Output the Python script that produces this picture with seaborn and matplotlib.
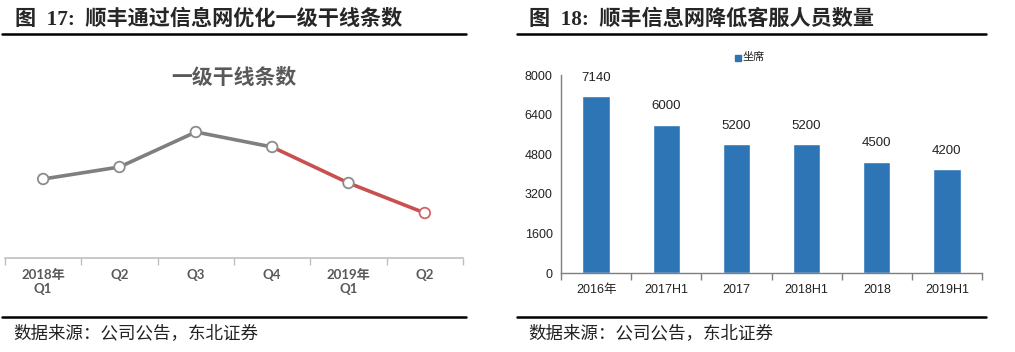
import pandas as pd
import numpy as np
import seaborn as sns
import matplotlib.pyplot as plt
from matplotlib.lines import Line2D

# left chart: trunk line count (no scale shown, values read as relative heights)
quarters = ['2018年\nQ1', 'Q2', 'Q3', 'Q4', '2019年\nQ1', 'Q2']
trunk_lines = [79, 91, 126, 111, 75, 45]

# right chart: customer service seats
periods = ['2016年', '2017H1', '2017', '2018H1', '2018', '2019H1']
seats = [7140, 6000, 5200, 5200, 4500, 4200]

sns.set_theme(style='white')
plt.rcParams['font.family'] = ['Liberation Sans', 'Noto Sans CJK SC', 'DejaVu Sans']
plt.rcParams['axes.unicode_minus'] = False

W, H = 1015, 352
fig = plt.figure(figsize=(W / 100, H / 100), dpi=100)


def fx(px):
    return px / W


def fy(py):
    return 1 - py / H


title_font = ['Liberation Serif', 'Noto Sans CJK SC']
cjk = ['Noto Sans CJK SC', 'DejaVu Sans']

# headers and rules
fig.text(fx(15), fy(20), '图  17:  顺丰通过信息网优化一级干线条数', fontsize=15.2, fontweight='bold',
         family=title_font, va='center', ha='left')
fig.text(fx(529), fy(20), '图  18:  顺丰信息网降低客服人员数量', fontsize=15.2, fontweight='bold',
         family=title_font, va='center', ha='left')
for x0, x1 in [(2, 466), (517, 986)]:
    fig.add_artist(Line2D([fx(x0), fx(x1)], [fy(34), fy(34)], color='black', lw=1.8))
for x0, x1 in [(2, 466), (517, 986)]:
    fig.add_artist(Line2D([fx(x0), fx(x1)], [fy(317), fy(317)], color='black', lw=1.8))
fig.text(fx(13), fy(334), '数据来源：公司公告，东北证券', fontsize=12.6, family=cjk, va='center', color='#222222')
fig.text(fx(528), fy(334), '数据来源：公司公告，东北证券', fontsize=12.6, family=cjk, va='center', color='#222222')

# ---- left line chart ----
ax1 = fig.add_axes([fx(5), fy(258), fx(458), (258 - 95) / H])
df1 = pd.DataFrame({'x': range(len(quarters)), 'y': trunk_lines})
gray_part = df1.iloc[:4]
red_part = df1.iloc[3:]
sns.lineplot(data=gray_part, x='x', y='y', ax=ax1, color='#7F7F7F', lw=2.6)
sns.lineplot(data=red_part, x='x', y='y', ax=ax1, color='#C9504F', lw=2.6)
edge = ['#8C8C8C'] * 5 + ['#D06565']
ax1.scatter(df1['x'], df1['y'], s=58, facecolor='white', edgecolor=edge, linewidth=1.3, zorder=5)
ax1.set_xlim(-0.5, 5.5)
ax1.set_ylim(0, 163)
ax1.set_xticks(range(len(quarters)))
ax1.set_xticklabels(quarters, fontsize=9.5, fontweight='bold', color='#595959',
                    family=['Lato', 'Noto Sans CJK SC'], linespacing=1.2)
ax1.set_xticks(np.arange(-0.5, 6, 1), minor=True)
ax1.tick_params(axis='x', which='major', length=0, pad=8)
ax1.tick_params(axis='x', which='minor', length=5, color='#BFBFBF', bottom=True, direction='out')
ax1.set_yticks([])
ax1.set_xlabel('')
ax1.set_ylabel('')
for s in ['top', 'left', 'right']:
    ax1.spines[s].set_visible(False)
ax1.spines['bottom'].set_color('#BFBFBF')
ax1.spines['bottom'].set_linewidth(1.2)
fig.text(fx(234), fy(78), '一级干线条数', fontsize=15, fontweight='bold', color='#595959',
         family=cjk, ha='center', va='center')

# ---- right bar chart ----
ax2 = fig.add_axes([fx(561), fy(273), fx(421), (273 - 75) / H])
df2 = pd.DataFrame({'period': periods, 'seats': seats})
sns.barplot(data=df2, x='period', y='seats', ax=ax2, color='#2E75B6', saturation=1, width=0.39)
ax2.set_xlim(-0.5, 5.5)
ax2.set_ylim(0, 8000)
ax2.set_yticks(np.arange(0, 8001, 1600))
ax2.tick_params(axis='y', labelsize=9, length=0, pad=6, colors='#222222')
ax2.tick_params(axis='x', which='major', labelsize=9, length=0, pad=8, colors='#222222')
ax2.set_xticks(np.arange(-0.5, 6, 1), minor=True)
ax2.tick_params(axis='x', which='minor', length=5, color='#7F7F7F', bottom=True, direction='out')
for lab in ax2.get_xticklabels():
    lab.set_family(['Liberation Sans', 'Noto Sans CJK SC'])
ax2.set_xlabel('')
ax2.set_ylabel('')
for s in ['top', 'right']:
    ax2.spines[s].set_visible(False)
for s in ['left', 'bottom']:
    ax2.spines[s].set_color('#7F7F7F')
    ax2.spines[s].set_linewidth(1.0)
for i, v in enumerate(seats):
    ax2.annotate(str(v), (i, v), xytext=(0, 9), textcoords='offset points', ha='center', va='bottom',
                 fontsize=9.5, color='#222222')

# legend
fig.patches.append(plt.Rectangle((fx(735), fy(61)), fx(6), 6 / H, color='#2E75B6', transform=fig.transFigure))
fig.text(fx(743), fy(57), '坐席', fontsize=8, family=cjk, va='center', color='#222222')

fig.savefig('out.png', dpi=100)
